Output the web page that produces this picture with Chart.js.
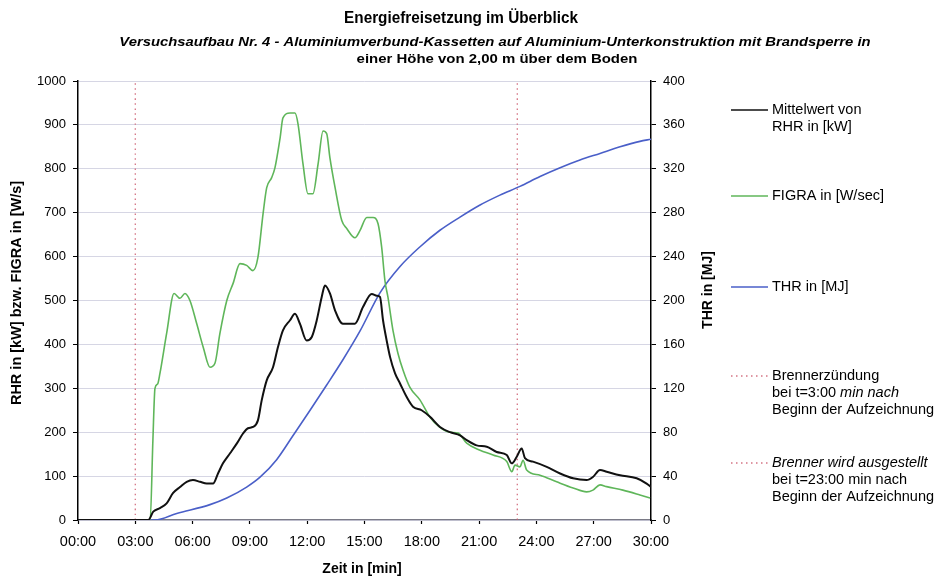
<!DOCTYPE html>
<html>
<head>
<meta charset="utf-8">
<script src="https://cdn.jsdelivr.net/npm/chart.js@4.4.0/dist/chart.umd.min.js"></script>
<style>
  html, body { margin: 0; padding: 0; background: #ffffff; }
  #wrap { width: 940px; height: 579px; }
</style>
</head>
<body>
<div id="wrap"><canvas id="chart" width="940" height="579"></canvas></div>
<script>
// Time axis (minutes) and tick labels
const timeTickLabels = ['00:00', '03:00', '06:00', '09:00', '12:00', '15:00', '18:00', '21:00', '24:00', '27:00', '30:00'];

// Mittelwert von RHR in [kW]
const rhrMinutes = [0, 3.68, 3.94, 4.29, 4.64, 4.97, 5.34, 5.69, 6.02, 6.39, 6.74, 7.07, 7.33, 7.59, 7.96, 8.31, 8.64, 8.90, 9.16, 9.42, 9.62, 9.88, 10.21, 10.47, 10.73, 11.10, 11.36, 11.62, 11.97, 12.24, 12.50, 12.76, 12.93, 13.19, 13.46, 13.87, 14.50, 14.92, 15.38, 15.64, 15.81, 15.97, 16.16, 16.34, 16.60, 16.86, 17.21, 17.54, 17.99, 18.43, 18.95, 19.48, 20.00, 20.35, 20.87, 21.40, 21.92, 22.45, 22.71, 22.97, 23.23, 23.40, 23.82, 24.54, 25.24, 25.92, 26.63, 26.96, 27.33, 27.68, 28.38, 29.25, 29.77, 30.0];
const rhrValues = [0, 0, 19, 27, 38, 61, 75, 87, 91, 87, 83, 83, 106, 129, 152, 174, 197, 209, 212, 227, 273, 318, 348, 394, 432, 455, 470, 447, 409, 417, 455, 508, 534, 516, 477, 447, 447, 485, 515, 511, 508, 455, 409, 371, 334, 311, 280, 258, 250, 235, 212, 200, 193, 182, 170, 167, 155, 148, 129, 144, 163, 141, 133, 121, 106, 95, 91, 98, 114, 110, 102, 95, 83, 75];

// FIGRA in [W/sec]
const figraMinutes = [0, 3.78, 3.92, 4.03, 4.17, 4.29, 4.64, 5.03, 5.34, 5.60, 5.86, 6.21, 6.56, 6.91, 7.17, 7.43, 7.79, 8.12, 8.48, 8.83, 9.16, 9.42, 9.69, 9.88, 10.14, 10.31, 10.58, 10.73, 11.10, 11.36, 11.52, 11.78, 12.04, 12.30, 12.57, 12.83, 13.02, 13.19, 13.46, 13.81, 14.07, 14.50, 14.76, 15.12, 15.45, 15.71, 15.90, 16.07, 16.23, 16.49, 16.75, 17.02, 17.38, 17.91, 18.43, 18.95, 19.48, 19.90, 20.35, 21.05, 21.73, 22.45, 22.71, 22.88, 23.14, 23.30, 23.49, 24.19, 25.06, 25.92, 26.63, 26.96, 27.33, 27.68, 28.53, 29.42, 29.95];
const figraValues = [0, 0, 180, 300, 310, 334, 425, 516, 505, 516, 500, 448, 393, 348, 357, 425, 500, 539, 584, 580, 568, 598, 698, 757, 780, 802, 870, 916, 927, 927, 902, 811, 743, 743, 811, 886, 880, 825, 757, 682, 664, 643, 659, 689, 689, 675, 621, 545, 507, 432, 380, 341, 302, 273, 234, 211, 200, 198, 175, 159, 148, 133, 110, 125, 121, 136, 114, 102, 87, 73, 64, 68, 80, 76, 68, 57, 50];

// THR in [MJ] (right axis)
const thrMinutes = [0, 4.03, 5.17, 6.91, 7.79, 8.83, 9.53, 10.40, 11.26, 12.15, 13.02, 13.87, 14.76, 15.81, 16.86, 17.91, 18.95, 20.00, 21.05, 22.09, 23.14, 24.19, 25.24, 26.28, 27.33, 28.38, 29.42, 30.0];
const thrValues = [0, 0, 6, 14, 20, 30, 39, 55, 77, 100, 123, 146, 172, 207, 231, 249, 264, 276, 287, 296, 304, 313, 321, 328, 334, 340, 345, 347];

// Burner events (minutes after start of recording)
const burnerOnMinute = 3;
const burnerOffMinute = 23;
const leftAxisMax = 1000;

const pairs = (xs, ys) => xs.map((x, i) => ({ x: x, y: ys[i] }));
const eventLine = (m) => [{ x: m, y: 0 }, { x: m, y: leftAxisMax }];

const FONT = '"Liberation Sans", Arial, Helvetica, sans-serif';
const EVENT_COLOR = 'rgba(205, 90, 110, 0.85)';

const legendItems = [
  { ds: 0, y: 110, lines: [[['Mittelwert von', false]], [['RHR in [kW]', false]]] },
  { ds: 1, y: 196, lines: [[['FIGRA in [W/sec]', false]]] },
  { ds: 2, y: 287, lines: [[['THR in [MJ]', false]]] },
  { ds: 3, y: 376, lines: [[['Brennerzündung', false]], [['bei t=3:00 ', false], ['min nach', true]], [['Beginn der Aufzeichnung', false]]] },
  { ds: 4, y: 463, lines: [[['Brenner wird ausgestellt', true]], [['bei t=23:00 min nach', false]], [['Beginn der Aufzeichnung', false]]] }
];

// centred text with a horizontal stretch factor
function stretchedText(ctx, text, cx, cy, font, sx) {
  ctx.save();
  ctx.font = font;
  ctx.textAlign = 'center';
  ctx.textBaseline = 'middle';
  ctx.translate(cx, cy);
  ctx.scale(sx, 1);
  ctx.fillText(text, 0, 0);
  ctx.restore();
}

const annotationsPlugin = {
  id: 'texts',
  afterDraw(chart) {
    const ctx = chart.ctx;
    ctx.save();
    ctx.fillStyle = '#000';
    ctx.textBaseline = 'middle';
    ctx.textAlign = 'center';

    stretchedText(ctx, 'Energiefreisetzung im Überblick', 461, 18, 'bold 17px ' + FONT, 0.9);
    stretchedText(ctx, 'Versuchsaufbau Nr. 4 - Aluminiumverbund-Kassetten auf Aluminium-Unterkonstruktion mit Brandsperre in',
      495, 42, 'italic bold 13px ' + FONT, 1.14);
    stretchedText(ctx, 'einer Höhe von 2,00 m über dem Boden', 497, 59, 'bold 13px ' + FONT, 1.15);

    // axis titles
    ctx.font = 'bold 14px ' + FONT;
    ctx.fillText('Zeit in [min]', 362, 569);
    ctx.save();
    ctx.translate(17, 293);
    ctx.rotate(-Math.PI / 2);
    ctx.font = 'bold 14.5px ' + FONT;
    ctx.fillText('RHR in [kW] bzw. FIGRA in [W/s]', 0, 0);
    ctx.restore();
    ctx.save();
    ctx.translate(708, 290);
    ctx.rotate(-Math.PI / 2);
    ctx.fillText('THR in [MJ]', 0, 0);
    ctx.restore();

    // legend
    ctx.textAlign = 'left';
    legendItems.forEach(item => {
      const ds = chart.data.datasets[item.ds];
      ctx.save();
      ctx.strokeStyle = ds.borderColor;
      ctx.lineWidth = 1.3;
      ctx.setLineDash(ds.borderDash || []);
      ctx.beginPath();
      ctx.moveTo(731, item.y);
      ctx.lineTo(768, item.y);
      ctx.stroke();
      ctx.restore();
      item.lines.forEach((segs, li) => {
        let x = 772;
        const y = item.y + li * 17;
        segs.forEach(([txt, it]) => {
          ctx.font = (it ? 'italic ' : '') + '14.5px ' + FONT;
          ctx.fillText(txt, x, y);
          x += ctx.measureText(txt).width;
        });
      });
    });
    ctx.restore();
  }
};

const bgPlugin = {
  id: 'bg',
  beforeDraw(chart) {
    const ctx = chart.ctx;
    ctx.save();
    ctx.fillStyle = '#ffffff';
    ctx.fillRect(0, 0, chart.width, chart.height);
    ctx.restore();
  }
};

new Chart(document.getElementById('chart'), {
  type: 'line',
  data: {
    datasets: [
      { label: 'Mittelwert von RHR in [kW]', data: pairs(rhrMinutes, rhrValues), yAxisID: 'y',
        borderColor: '#111111', borderWidth: 2, order: 1 },
      { label: 'FIGRA in [W/sec]', data: pairs(figraMinutes, figraValues), yAxisID: 'y',
        borderColor: '#5fb65a', borderWidth: 1.6, order: 2 },
      { label: 'THR in [MJ]', data: pairs(thrMinutes, thrValues), yAxisID: 'y1',
        borderColor: '#4a5fc8', borderWidth: 1.6, order: 3 },
      { label: 'Brennerzündung', data: eventLine(burnerOnMinute), yAxisID: 'y',
        borderColor: EVENT_COLOR, borderWidth: 1.3, borderDash: [1.5, 3.5], order: 4 },
      { label: 'Brenner wird ausgestellt', data: eventLine(burnerOffMinute), yAxisID: 'y',
        borderColor: EVENT_COLOR, borderWidth: 1.3, borderDash: [1.5, 3.5], order: 5 }
    ]
  },
  options: {
    responsive: false,
    animation: false,
    devicePixelRatio: 1,
    parsing: false,
    elements: {
      point: { radius: 0, hoverRadius: 0 },
      line: { cubicInterpolationMode: 'monotone', fill: false }
    },
    layout: { padding: { left: 0, right: 229, top: 81, bottom: 0 } },
    plugins: {
      legend: { display: false },
      title: { display: false },
      tooltip: { enabled: false }
    },
    scales: {
      x: {
        type: 'linear', min: 0, max: 30,
        afterFit(s) { s.height = 59; },
        afterBuildTicks(s) { s.ticks = timeTickLabels.map((_, i) => ({ value: i * 3 })); },
        ticks: {
          callback: (v) => timeTickLabels[Math.round(v / 3)],
          color: '#000', padding: 9, maxRotation: 0, autoSkip: false,
          font: { family: FONT, size: 14.5 }
        },
        grid: { drawOnChartArea: false, drawTicks: true, tickLength: 4, tickColor: '#000', tickWidth: 1.2 },
        border: { color: '#7a7a86', width: 1.2 }
      },
      y: {
        position: 'left', min: 0, max: 1000,
        afterFit(s) { s.width = 78; },
        ticks: { stepSize: 100, color: '#000', padding: 7, font: { family: FONT, size: 13 },
          callback: (v) => String(v) },
        grid: { color: '#d6d6e4', lineWidth: 1, tickColor: '#000', tickLength: 5 },
        border: { color: '#000', width: 1.5 }
      },
      y1: {
        position: 'right', min: 0, max: 400,
        afterFit(s) { s.width = 60; },
        ticks: { stepSize: 40, color: '#000', padding: 7, font: { family: FONT, size: 13 },
          callback: (v) => String(v) },
        grid: { drawOnChartArea: false, tickColor: '#000', tickLength: 5 },
        border: { color: '#000', width: 1.5 }
      }
    }
  },
  plugins: [bgPlugin, annotationsPlugin]
});
</script>
</body>
</html>
